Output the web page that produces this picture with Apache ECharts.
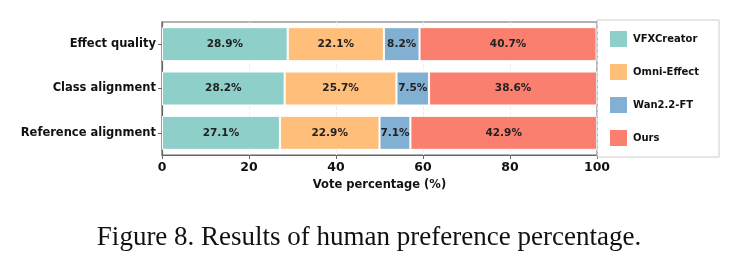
<!DOCTYPE html>
<html>
<head>
<meta charset="utf-8">
<script src="https://cdn.jsdelivr.net/npm/echarts@6/dist/echarts.min.js"></script>
<style>
  html, body { margin: 0; padding: 0; background: #fff; }
  #chart { width: 738px; height: 265px; }
</style>
</head>
<body>
<div id="chart"></div>
<script>
// categories, bottom to top (category axis draws first item at the bottom)
var categories = ['Reference alignment', 'Class alignment', 'Effect quality'];
var methods = ['VFXCreator', 'Omni-Effect', 'Wan2.2-FT', 'Ours'];
var colors = ['#8ECFC9', '#FFBE7A', '#82B0D2', '#FA7F6F'];

var vfxcreator = [27.1, 28.2, 28.9];
var omniEffect = [22.9, 25.7, 22.1];
var wanFT = [7.1, 7.5, 8.2];
var ours = [42.9, 38.6, 40.7];

var xTicks = [0, 20, 40, 60, 80, 100];

var seriesValues = [vfxcreator, omniEffect, wanFT, ours];

var myChart = echarts.init(document.getElementById('chart'));

var option = {
    animation: false,
    title: {
        text: 'Figure 8. Results of human preference percentage.',
        left: 'center',
        top: 219,
        textStyle: {
            fontFamily: 'Liberation Serif',
            fontWeight: 'normal',
            fontSize: 27,
            color: '#111'
        }
    },
    legend: {
        orient: 'vertical',
        left: 597,
        top: 20,
        padding: [9, 20, 9, 11],
        itemWidth: 19,
        itemHeight: 18,
        itemGap: 13,
        borderColor: '#ccc',
        borderWidth: 1,
        icon: 'rect',
        data: methods,
        textStyle: {
            fontFamily: 'DejaVu Sans',
            fontWeight: 'bold',
            fontSize: 10,
            color: '#111'
        }
    },
    grid: {
        left: 162,
        right: 141,
        top: 22,
        bottom: 110,
        show: true,
        borderColor: '#666',
        borderWidth: 1.2
    },
    xAxis: {
        type: 'value',
        min: 0,
        max: 100,
        interval: 20,
        name: 'Vote percentage (%)',
        nameLocation: 'middle',
        nameGap: 22,
        nameTextStyle: {
            fontFamily: 'DejaVu Sans',
            fontWeight: 'bold',
            fontSize: 11.5,
            color: '#111'
        },
        axisLine: { show: true, lineStyle: { color: '#666', width: 1.2 } },
        axisTick: { show: true, length: 4, lineStyle: { color: '#666' } },
        axisLabel: {
            fontFamily: 'DejaVu Sans',
            fontWeight: 'bold',
            fontSize: 12.5,
            color: '#111',
            margin: 6,
            formatter: function (v) { return xTicks.indexOf(v) >= 0 ? String(v) : ''; }
        },
        splitLine: { show: true, lineStyle: { color: '#eeeeee', type: 'dashed' } }
    },
    yAxis: {
        type: 'category',
        data: categories,
        axisLine: { show: true, lineStyle: { color: '#666', width: 1.2 } },
        axisTick: { show: true, alignWithLabel: true, length: 4, lineStyle: { color: '#666' } },
        axisLabel: {
            fontFamily: 'DejaVu Sans',
            fontWeight: 'bold',
            fontSize: 11.5,
            color: '#111',
            margin: 6
        }
    },
    series: methods.map(function (name, i) {
        return {
            name: name,
            type: 'bar',
            stack: 'total',
            barWidth: 34,
            data: seriesValues[i],
            itemStyle: { color: colors[i], borderColor: '#fff', borderWidth: 1 },
            label: {
                show: true,
                position: 'inside',
                formatter: function (p) { return p.value.toFixed(1) + '%'; },
                fontFamily: 'DejaVu Sans',
                fontWeight: 'bold',
                fontSize: 10.5,
                color: '#222'
            }
        };
    })
};

myChart.setOption(option);
</script>
</body>
</html>
